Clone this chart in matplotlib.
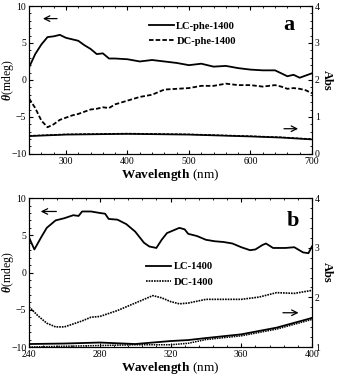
import numpy as np
import matplotlib
matplotlib.use("Agg")
import matplotlib.pyplot as plt
from matplotlib.ticker import MultipleLocator

plt.rcParams["font.family"] = ["Liberation Serif", "DejaVu Serif"]
plt.rcParams["mathtext.fontset"] = "custom"
plt.rcParams["mathtext.it"] = "Liberation Serif:italic:bold"
plt.rcParams["mathtext.bf"] = "Liberation Serif:bold"
plt.rcParams["mathtext.rm"] = "Liberation Serif"

# ---- panel a: CD (mdeg) ----
wl_a = [240, 250, 260, 270, 280, 290, 300, 310, 320, 330, 340, 350, 360, 370,
        380, 400, 420, 440, 460, 480, 500, 520, 540, 560, 580, 600, 620, 640,
        650, 660, 670, 680, 690, 700]
lc_phe = [1.7, 3.5, 4.8, 5.8, 5.9, 6.1, 5.7, 5.5, 5.3, 4.7, 4.2, 3.5, 3.6, 2.9,
          2.9, 2.8, 2.5, 2.7, 2.5, 2.3, 2.0, 2.2, 1.8, 1.9, 1.6, 1.4, 1.3, 1.3,
          0.9, 0.5, 0.7, 0.3, 0.6, 0.9]
dc_phe = [-2.5, -3.8, -5.5, -6.4, -6.0, -5.4, -5.1, -4.8, -4.6, -4.3, -4.0, -3.9, -3.7, -3.8,
          -3.3, -2.8, -2.3, -2.0, -1.3, -1.2, -1.1, -0.8, -0.8, -0.5, -0.7, -0.7, -0.9, -0.7,
          -0.9, -1.2, -1.1, -1.2, -1.4, -1.8]
# absorbance (right axis)
wl_a_abs = [240, 300, 400, 500, 600, 650, 700]
abs_lc_phe = [0.48, 0.52, 0.54, 0.52, 0.47, 0.44, 0.39]
abs_dc_phe = [0.49, 0.53, 0.55, 0.53, 0.48, 0.45, 0.40]

# ---- panel b ----
wl_b = [240, 243, 247, 250, 255, 260, 265, 268, 270, 275, 280, 283, 285, 290,
        295, 300, 305, 308, 312, 315, 318, 322, 325, 328, 330, 335, 340, 345,
        350, 355, 360, 365, 368, 372, 374, 378, 385, 390, 395, 398, 400]
lc_1400 = [4.7, 3.1, 4.8, 6.0, 7.0, 7.3, 7.7, 7.6, 8.2, 8.2, 8.0, 7.9, 7.2, 7.1,
           6.5, 5.5, 4.0, 3.5, 3.3, 4.4, 5.3, 5.7, 6.0, 5.8, 5.2, 4.9, 4.4, 4.2,
           4.1, 3.9, 3.4, 3.0, 3.1, 3.7, 3.9, 3.3, 3.3, 3.4, 2.7, 2.6, 3.5]
wl_b2 = [240, 245, 250, 255, 260, 265, 270, 275, 280, 290, 300, 305, 310, 315,
         320, 325, 330, 340, 350, 360, 370, 380, 390, 400]
dc_1400 = [-4.6, -5.8, -6.8, -7.3, -7.3, -6.9, -6.5, -6.0, -5.9, -5.1, -4.1, -3.6, -3.1, -3.4,
           -3.9, -4.2, -4.1, -3.6, -3.6, -3.6, -3.3, -2.7, -2.8, -2.4]
wl_b_abs = [240, 260, 280, 300, 320, 330, 340, 360, 380, 400]
abs_lc_1400 = [1.06, 1.07, 1.09, 1.06, 1.12, 1.14, 1.18, 1.255, 1.39, 1.585]
abs_dc_1400 = [1.00, 1.015, 1.03, 1.045, 1.045, 1.075, 1.15, 1.225, 1.36, 1.555]


def style_axes(ax, ax2):
    for a in (ax, ax2):
        a.tick_params(which="both", direction="in", labelsize=7, pad=2)
        a.tick_params(which="major", length=3)
        a.tick_params(which="minor", length=1.5)
    ax.tick_params(which="both", top=True)
    ax.set_ylim(-10, 10)
    ax.yaxis.set_major_locator(MultipleLocator(5))
    ax.yaxis.set_minor_locator(MultipleLocator(1))
    ax2.yaxis.set_major_locator(MultipleLocator(1))
    ax2.yaxis.set_minor_locator(MultipleLocator(0.2))
    ax.set_ylabel(r"$\theta$(mdeg)", fontsize=8.5)
    ax.yaxis.set_label_coords(-0.046, 0.5)
    ax2.set_ylabel("Abs", fontsize=9, fontweight="bold", rotation=270)
    ax2.yaxis.set_label_coords(1.075, 0.5)
    ax.set_xlabel(r"$\mathbf{Wavelength}$ (nm)", fontsize=9.5, labelpad=1)


def arrow(ax, x0, x1, y):
    ax.annotate("", xy=(x1, y), xytext=(x0, y),
                arrowprops=dict(arrowstyle="->", lw=0.9, color="black"))


fig = plt.figure(figsize=(3.38, 3.78), dpi=100)

ax = fig.add_axes([0.086, 0.593, 0.837, 0.391])
ax2 = ax.twinx()
ax.plot(wl_a, lc_phe, color="black", lw=1.3, label="LC-phe-1400")
ax.plot(wl_a, dc_phe, color="black", lw=1.3, ls=(0, (2.5, 1.2)), label="DC-phe-1400")
ax2.plot(wl_a_abs, abs_lc_phe, color="black", lw=1.2)
ax2.plot(wl_a_abs, abs_dc_phe, color="black", lw=1.0, ls=(0, (2, 1)))
ax.set_xlim(240, 700)
ax2.set_ylim(0, 4)
ax.xaxis.set_major_locator(MultipleLocator(100))
ax.xaxis.set_minor_locator(MultipleLocator(20))
style_axes(ax, ax2)
ax.set_xticks([300, 400, 500, 600, 700])
arrow(ax, 290, 258, 8.3)
arrow(ax, 650, 682, -6.6)
ax.text(663, 7.4, "a", fontsize=16, fontweight="bold", ha="center", va="center")
ax.legend(loc="upper left", bbox_to_anchor=(0.39, 0.96), frameon=False,
          handlelength=2.4, handletextpad=0.2, labelspacing=0.55,
          prop={"weight": "bold", "size": 7.6})

bx = fig.add_axes([0.086, 0.082, 0.837, 0.394])
bx2 = bx.twinx()
bx.plot(wl_b, lc_1400, color="black", lw=1.3, label="LC-1400")
bx.plot(wl_b2, dc_1400, color="black", lw=1.2, ls=(0, (1, 0.6)), label="DC-1400")
bx2.plot(wl_b_abs, abs_lc_1400, color="black", lw=1.3)
bx2.plot(wl_b_abs, abs_dc_1400, color="black", lw=1.1, ls=(0, (1, 0.6)))
bx.set_xlim(240, 400)
bx2.set_ylim(1, 4)
bx.xaxis.set_major_locator(MultipleLocator(40))
bx.xaxis.set_minor_locator(MultipleLocator(8))
style_axes(bx, bx2)
arrow(bx, 257, 245, 8.2)
arrow(bx, 382, 394, -5.4)
bx.text(389, 6.9, "b", fontsize=16, fontweight="bold", ha="center", va="center")
bx.legend(loc="upper left", bbox_to_anchor=(0.38, 0.635), frameon=False,
          handlelength=2.4, handletextpad=0.2, labelspacing=0.6,
          prop={"weight": "bold", "size": 7.6})

fig.savefig("out.png", dpi=100)
